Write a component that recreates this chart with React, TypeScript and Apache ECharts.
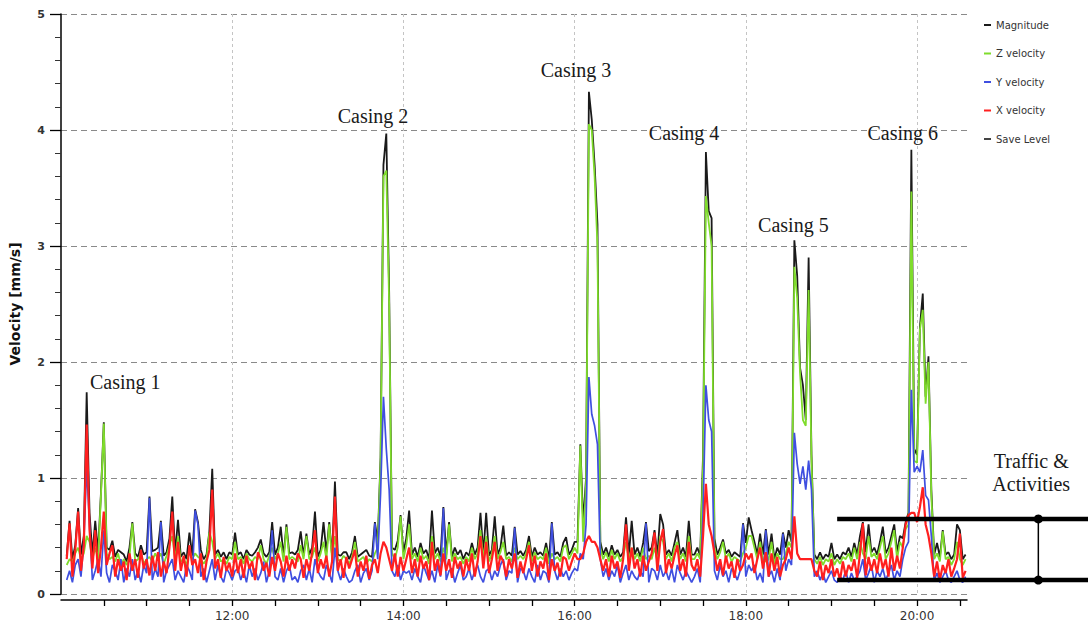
import React, { useEffect, useRef } from "react";
import * as echarts from "echarts";

// Sampling of the vibration record: first sample at 10:04, one sample every 2 minutes.
const START_MINUTE = 604;
const STEP_MINUTES = 2;

// Peak particle velocities [mm/s], 20 samples per row
const magnitude = [
  0.33, 0.63, 0.3, 0.42, 0.74, 0.34, 0.5, 1.74, 0.7, 0.34, 0.63, 0.36, 0.87, 1.48, 0.4, 0.38, 0.46, 0.32, 0.38, 0.36,
  0.34, 0.28, 0.4, 0.62, 0.35, 0.32, 0.42, 0.34, 0.36, 0.84, 0.37, 0.38, 0.4, 0.63, 0.33, 0.36, 0.48, 0.84, 0.35, 0.64,
  0.32, 0.36, 0.3, 0.53, 0.33, 0.73, 0.62, 0.38, 0.3, 0.34, 0.54, 1.08, 0.34, 0.38, 0.32, 0.36, 0.3, 0.36, 0.34, 0.53,
  0.34, 0.36, 0.3, 0.38, 0.34, 0.33, 0.36, 0.4, 0.47, 0.35, 0.32, 0.36, 0.62, 0.34, 0.4, 0.58, 0.32, 0.6, 0.35, 0.36,
  0.34, 0.38, 0.54, 0.33, 0.52, 0.34, 0.4, 0.71, 0.32, 0.38, 0.62, 0.36, 0.62, 0.33, 0.97, 0.34, 0.33, 0.36, 0.36, 0.3,
  0.36, 0.5, 0.32, 0.34, 0.36, 0.38, 0.33, 0.32, 0.62, 0.45, 1.18, 3.7, 3.97, 2.6, 0.4, 0.38, 0.46, 0.68, 0.36, 0.48,
  0.72, 0.34, 0.4, 0.32, 0.44, 0.35, 0.38, 0.3, 0.72, 0.35, 0.4, 0.32, 0.75, 0.34, 0.62, 0.32, 0.4, 0.34, 0.38, 0.3,
  0.36, 0.33, 0.44, 0.34, 0.4, 0.7, 0.35, 0.7, 0.33, 0.38, 0.67, 0.34, 0.4, 0.59, 0.33, 0.36, 0.33, 0.58, 0.34, 0.37,
  0.33, 0.38, 0.5, 0.32, 0.4, 0.34, 0.36, 0.33, 0.44, 0.3, 0.62, 0.34, 0.36, 0.32, 0.44, 0.49, 0.34, 0.38, 0.45, 0.45,
  1.29, 0.61, 1.0, 4.33, 4.09, 3.7, 3.19, 0.45, 0.34, 0.4, 0.32, 0.42, 0.34, 0.38, 0.32, 0.36, 0.66, 0.34, 0.63, 0.34,
  0.4, 0.32, 0.44, 0.62, 0.37, 0.4, 0.55, 0.33, 0.69, 0.6, 0.34, 0.38, 0.33, 0.44, 0.55, 0.34, 0.4, 0.32, 0.63, 0.34,
  0.34, 0.4, 0.33, 1.2, 3.81, 3.3, 3.24, 0.48, 0.34, 0.4, 0.47, 0.35, 0.38, 0.32, 0.36, 0.34, 0.32, 0.61, 0.44, 0.66,
  0.55, 0.45, 0.34, 0.52, 0.34, 0.56, 0.34, 0.52, 0.3, 0.4, 0.34, 0.53, 0.4, 0.55, 0.45, 3.05, 2.74, 1.95, 1.8, 1.5,
  2.9, 1.2, 0.34, 0.3, 0.36, 0.3, 0.34, 0.32, 0.44, 0.3, 0.34, 0.3, 0.36, 0.34, 0.4, 0.32, 0.44, 0.34, 0.5, 0.62,
  0.36, 0.6, 0.36, 0.4, 0.34, 0.45, 0.58, 0.35, 0.4, 0.5, 0.6, 0.36, 0.5, 0.48, 0.62, 0.7, 3.83, 1.25, 1.2, 2.3,
  2.59, 1.7, 2.05, 0.9, 0.34, 0.44, 0.32, 0.55, 0.34, 0.36, 0.3, 0.34, 0.6, 0.55, 0.3, 0.34,
];

const zVelocity = [
  0.25, 0.3, 0.28, 0.35, 0.4, 0.3, 0.35, 0.5, 0.45, 0.3, 0.4, 0.3, 0.85, 1.47, 0.35, 0.3, 0.32, 0.28, 0.35, 0.25,
  0.3, 0.25, 0.32, 0.61, 0.28, 0.3, 0.35, 0.26, 0.3, 0.32, 0.28, 0.35, 0.3, 0.35, 0.26, 0.33, 0.42, 0.5, 0.3, 0.5,
  0.28, 0.3, 0.25, 0.38, 0.3, 0.35, 0.32, 0.3, 0.26, 0.3, 0.53, 0.45, 0.3, 0.35, 0.28, 0.3, 0.26, 0.32, 0.3, 0.45,
  0.3, 0.32, 0.26, 0.35, 0.3, 0.28, 0.32, 0.3, 0.42, 0.3, 0.26, 0.33, 0.4, 0.3, 0.35, 0.45, 0.28, 0.58, 0.3, 0.32,
  0.3, 0.28, 0.42, 0.3, 0.5, 0.3, 0.32, 0.4, 0.28, 0.35, 0.45, 0.3, 0.6, 0.3, 0.5, 0.3, 0.28, 0.33, 0.3, 0.26,
  0.32, 0.45, 0.28, 0.3, 0.32, 0.26, 0.3, 0.28, 0.35, 0.4, 1.15, 3.6, 3.65, 2.5, 0.35, 0.3, 0.4, 0.67, 0.3, 0.42,
  0.6, 0.3, 0.35, 0.28, 0.4, 0.3, 0.33, 0.26, 0.5, 0.3, 0.35, 0.28, 0.4, 0.3, 0.6, 0.28, 0.35, 0.3, 0.32, 0.26,
  0.32, 0.28, 0.4, 0.3, 0.35, 0.55, 0.3, 0.5, 0.28, 0.35, 0.5, 0.3, 0.36, 0.45, 0.3, 0.32, 0.28, 0.4, 0.3, 0.33,
  0.3, 0.35, 0.45, 0.28, 0.36, 0.3, 0.32, 0.3, 0.4, 0.26, 0.35, 0.3, 0.32, 0.28, 0.4, 0.42, 0.3, 0.35, 0.4, 0.35,
  1.28, 0.45, 0.95, 4.05, 4.0, 3.6, 3.0, 0.4, 0.3, 0.36, 0.28, 0.38, 0.3, 0.35, 0.28, 0.32, 0.45, 0.3, 0.4, 0.3,
  0.35, 0.28, 0.4, 0.3, 0.33, 0.3, 0.4, 0.28, 0.5, 0.45, 0.3, 0.35, 0.28, 0.4, 0.45, 0.3, 0.35, 0.28, 0.5, 0.3,
  0.3, 0.35, 0.3, 1.1, 3.43, 3.2, 3.0, 0.4, 0.3, 0.36, 0.45, 0.3, 0.35, 0.28, 0.32, 0.3, 0.28, 0.35, 0.4, 0.5,
  0.5, 0.4, 0.3, 0.45, 0.3, 0.28, 0.3, 0.45, 0.26, 0.35, 0.3, 0.3, 0.35, 0.45, 0.4, 2.82, 2.55, 1.9, 1.5, 1.45,
  2.62, 1.16, 0.3, 0.26, 0.32, 0.25, 0.3, 0.28, 0.35, 0.25, 0.3, 0.26, 0.32, 0.3, 0.35, 0.28, 0.4, 0.3, 0.45, 0.35,
  0.3, 0.5, 0.32, 0.35, 0.3, 0.4, 0.5, 0.3, 0.35, 0.45, 0.55, 0.3, 0.45, 0.4, 0.56, 0.6, 3.47, 1.15, 1.13, 2.28,
  2.45, 1.64, 2.0, 0.85, 0.3, 0.35, 0.28, 0.54, 0.3, 0.32, 0.25, 0.3, 0.45, 0.3, 0.25, 0.3,
];

const yVelocity = [
  0.12, 0.2, 0.1, 0.25, 0.3, 0.15, 0.45, 1.1, 0.6, 0.12, 0.2, 0.3, 0.15, 0.55, 0.18, 0.1, 0.25, 0.2, 0.12, 0.3,
  0.1, 0.22, 0.15, 0.3, 0.12, 0.2, 0.1, 0.25, 0.18, 0.83, 0.12, 0.22, 0.15, 0.62, 0.1, 0.2, 0.25, 0.3, 0.12, 0.2,
  0.15, 0.1, 0.25, 0.2, 0.12, 0.72, 0.6, 0.15, 0.22, 0.1, 0.2, 0.3, 0.12, 0.25, 0.15, 0.1, 0.22, 0.18, 0.12, 0.2,
  0.22, 0.12, 0.2, 0.1, 0.25, 0.15, 0.22, 0.12, 0.18, 0.28, 0.1, 0.2, 0.55, 0.15, 0.12, 0.22, 0.1, 0.2, 0.25, 0.12,
  0.15, 0.1, 0.2, 0.25, 0.12, 0.22, 0.1, 0.3, 0.2, 0.15, 0.12, 0.25, 0.18, 0.1, 0.4, 0.2, 0.12, 0.22, 0.15, 0.1,
  0.12, 0.2, 0.25, 0.1, 0.18, 0.22, 0.12, 0.2, 0.61, 0.3, 0.87, 1.7, 1.25, 0.9, 0.2, 0.15, 0.25, 0.12, 0.2, 0.18,
  0.2, 0.12, 0.22, 0.15, 0.1, 0.25, 0.18, 0.12, 0.2, 0.1, 0.25, 0.15, 0.74, 0.12, 0.2, 0.22, 0.1, 0.18, 0.25, 0.12,
  0.15, 0.22, 0.12, 0.2, 0.25, 0.15, 0.1, 0.2, 0.22, 0.12, 0.2, 0.15, 0.25, 0.3, 0.12, 0.2, 0.18, 0.57, 0.1, 0.22,
  0.2, 0.12, 0.22, 0.15, 0.1, 0.25, 0.12, 0.2, 0.18, 0.1, 0.61, 0.2, 0.12, 0.22, 0.15, 0.2, 0.12, 0.18, 0.22, 0.2,
  0.35, 0.3, 0.6, 1.87, 1.55, 1.45, 1.29, 0.3, 0.15, 0.22, 0.12, 0.2, 0.15, 0.25, 0.1, 0.18, 0.25, 0.12, 0.2, 0.15,
  0.12, 0.2, 0.15, 0.61, 0.1, 0.22, 0.2, 0.12, 0.25, 0.15, 0.2, 0.12, 0.22, 0.1, 0.25, 0.18, 0.12, 0.2, 0.15, 0.1,
  0.15, 0.22, 0.1, 0.7, 1.8, 1.5, 1.4, 0.2, 0.12, 0.25, 0.15, 0.2, 0.1, 0.22, 0.18, 0.12, 0.2, 0.6, 0.15, 0.25,
  0.2, 0.25, 0.12, 0.18, 0.1, 0.55, 0.15, 0.2, 0.1, 0.22, 0.12, 0.52, 0.2, 0.3, 0.25, 1.39, 1.12, 0.95, 1.1, 0.9,
  1.15, 0.9, 0.15, 0.2, 0.12, 0.18, 0.1, 0.15, 0.2, 0.12, 0.1, 0.15, 0.12, 0.2, 0.1, 0.18, 0.12, 0.15, 0.2, 0.3,
  0.12, 0.18, 0.25, 0.1, 0.2, 0.15, 0.22, 0.12, 0.18, 0.25, 0.12, 0.2, 0.15, 0.3, 0.4, 0.45, 1.76, 1.05, 1.1, 1.05,
  1.24, 0.85, 0.81, 0.5, 0.12, 0.18, 0.1, 0.15, 0.2, 0.12, 0.1, 0.15, 0.2, 0.12, 0.1, 0.15,
];

const xVelocity = [
  0.3, 0.61, 0.15, 0.38, 0.71, 0.2, 0.42, 1.46, 0.55, 0.22, 0.55, 0.18, 0.4, 0.71, 0.25, 0.35, 0.42, 0.15, 0.3, 0.2,
  0.28, 0.12, 0.35, 0.2, 0.3, 0.14, 0.38, 0.22, 0.3, 0.16, 0.33, 0.2, 0.36, 0.15, 0.28, 0.18, 0.4, 0.71, 0.2, 0.45,
  0.2, 0.33, 0.15, 0.42, 0.25, 0.3, 0.18, 0.35, 0.12, 0.28, 0.38, 0.9, 0.22, 0.3, 0.14, 0.32, 0.2, 0.27, 0.15, 0.35,
  0.18, 0.3, 0.14, 0.33, 0.22, 0.28, 0.12, 0.36, 0.3, 0.2, 0.27, 0.15, 0.32, 0.2, 0.35, 0.28, 0.15, 0.33, 0.2, 0.3,
  0.22, 0.35, 0.3, 0.14, 0.3, 0.2, 0.36, 0.55, 0.18, 0.3, 0.22, 0.33, 0.15, 0.28, 0.84, 0.2, 0.3, 0.14, 0.32, 0.22,
  0.3, 0.38, 0.15, 0.28, 0.2, 0.33, 0.13, 0.25, 0.3, 0.18, 0.35, 0.45, 0.4, 0.3, 0.2, 0.35, 0.15, 0.32, 0.2, 0.3,
  0.4, 0.18, 0.3, 0.15, 0.33, 0.22, 0.28, 0.12, 0.45, 0.2, 0.3, 0.16, 0.35, 0.2, 0.3, 0.14, 0.32, 0.22, 0.28, 0.15,
  0.3, 0.2, 0.35, 0.15, 0.28, 0.5, 0.22, 0.45, 0.18, 0.3, 0.45, 0.2, 0.33, 0.28, 0.15, 0.3, 0.22, 0.35, 0.14, 0.28,
  0.18, 0.3, 0.42, 0.2, 0.33, 0.15, 0.28, 0.22, 0.35, 0.12, 0.3, 0.2, 0.27, 0.15, 0.32, 0.3, 0.2, 0.28, 0.35, 0.3,
  0.3, 0.35, 0.45, 0.5, 0.45, 0.45, 0.4, 0.3, 0.2, 0.3, 0.15, 0.33, 0.22, 0.28, 0.14, 0.3, 0.6, 0.2, 0.4, 0.22,
  0.3, 0.15, 0.33, 0.2, 0.28, 0.35, 0.53, 0.2, 0.45, 0.56, 0.18, 0.3, 0.22, 0.33, 0.42, 0.2, 0.3, 0.15, 0.45, 0.25,
  0.2, 0.3, 0.15, 0.5, 0.95, 0.6, 0.5, 0.35, 0.2, 0.3, 0.16, 0.33, 0.22, 0.28, 0.14, 0.3, 0.2, 0.25, 0.35, 0.3,
  0.35, 0.18, 0.3, 0.4, 0.22, 0.36, 0.15, 0.35, 0.2, 0.32, 0.15, 0.25, 0.3, 0.4, 0.3, 0.67, 0.35, 0.3, 0.3, 0.3,
  0.3, 0.3, 0.2, 0.15, 0.28, 0.12, 0.25, 0.18, 0.3, 0.15, 0.22, 0.12, 0.28, 0.15, 0.25, 0.2, 0.3, 0.14, 0.35, 0.61,
  0.16, 0.32, 0.2, 0.3, 0.18, 0.35, 0.22, 0.3, 0.15, 0.4, 0.2, 0.33, 0.22, 0.4, 0.6, 0.68, 0.7, 0.7, 0.62, 0.75,
  0.92, 0.6, 0.5, 0.35, 0.15, 0.28, 0.12, 0.25, 0.18, 0.3, 0.15, 0.22, 0.3, 0.52, 0.14, 0.2,
];

// Time axis (minutes after midnight)
const AXIS_START = 600; // 10:00
const AXIS_END = 1235; // 20:35
const tickMinutes = [
  630, 660, 690, 720, 750, 780, 810, 840, 870, 900, 930,
  960, 990, 1020, 1050, 1080, 1110, 1140, 1170, 1200, 1230,
];
const labelMinutes = [720, 840, 960, 1080, 1200];

const legendNames = ["Magnitude", "Z velocity", "Y velocity", "X velocity", "Save Level"];

// Event annotations, placed in (minute, mm/s)
const casingNotes = [
  { text: "Casing 1", minute: 645, level: 1.83 },
  { text: "Casing 2", minute: 818.7, level: 4.12 },
  { text: "Casing 3", minute: 961, level: 4.52 },
  { text: "Casing 4", minute: 1036.7, level: 3.97 },
  { text: "Casing 5", minute: 1113.3, level: 3.18 },
  { text: "Casing 6", minute: 1190, level: 3.97 },
];
const trafficBand = { fromMinute: 1144, upper: 0.647, lower: 0.12, markerMinute: 1285, labelMinute: 1280, labelLevel: 1.047 };

const pairs = (vals: number[]) => vals.map((v, i) => [START_MINUTE + i * STEP_MINUTES, v]);

const fmtTime = (m: number) => `${Math.floor(m / 60)}:${String(m % 60).padStart(2, "0")}`;

export default function App() {
  const ref = useRef<HTMLDivElement>(null);

  useEffect(() => {
    document.body.style.margin = "0";
    if (!ref.current) return;
    const chart = echarts.init(ref.current, undefined, { renderer: "svg" });

    const line = (name: string, data: number[], color: string, width: number) => ({
      name,
      type: "line",
      data: pairs(data),
      symbol: "none",
      color,
      lineStyle: { color, width },
      emphasis: { disabled: true },
    });

    chart.setOption({
      animation: false,
      backgroundColor: "#ffffff",
      grid: { left: 56, right: 121, top: 14, bottom: 37, containLabel: false },
      legend: {
        data: legendNames,
        orient: "vertical",
        left: 979,
        top: 14,
        icon: "rect",
        itemWidth: 7,
        itemHeight: 2,
        itemGap: 16.5,
        selectedMode: false,
        textStyle: { fontFamily: "DejaVu Sans", fontSize: 10, color: "#333", lineHeight: 12 },
      },
      xAxis: [
        {
          type: "value",
          min: AXIS_START,
          max: AXIS_END,
          interval: 30,
          offset: 6,
          axisLine: { show: true, onZero: false, lineStyle: { color: "#000", width: 1.5 } },
          axisTick: { show: true, length: 6, customValues: tickMinutes, lineStyle: { color: "#000", width: 1.3 } },
          axisLabel: {
            customValues: labelMinutes,
            margin: 10,
            fontFamily: "DejaVu Sans",
            fontSize: 12,
            color: "#333",
            formatter: (v: number) => (labelMinutes.includes(v) ? fmtTime(v) : ""),
          },
          splitLine: { show: false },
        },
        {
          type: "value",
          min: AXIS_START,
          max: AXIS_END,
          interval: 120,
          axisLine: { show: false },
          axisTick: { show: false },
          axisLabel: { show: false },
          splitLine: {
            show: true,
            showMinLine: false,
            showMaxLine: false,
            lineStyle: { color: "#c4c4c4", type: [3, 3], width: 1 },
          },
        },
      ],
      yAxis: {
        type: "value",
        min: 0,
        max: 5,
        interval: 1,
        name: "Velocity [mm/s]",
        nameLocation: "middle",
        nameGap: 39,
        nameRotate: 90,
        nameTextStyle: { fontFamily: "DejaVu Sans", fontSize: 14, fontWeight: "bold", color: "#111" },
        axisLine: { show: true, lineStyle: { color: "#000", width: 1.5 } },
        axisTick: { show: true, length: 11, lineStyle: { color: "#000", width: 1.3 } },
        minorTick: { show: true, splitNumber: 5, length: 6, lineStyle: { color: "#333", width: 1 } },
        axisLabel: { margin: 16, fontFamily: "DejaVu Sans", fontSize: 11, fontWeight: "bold", color: "#333" },
        splitLine: { show: true, lineStyle: { color: "#8a8a8a", type: [6, 4], width: 1 } },
      },
      series: [
        line("Magnitude", magnitude, "#1a1a1a", 1.8),
        line("Z velocity", zVelocity, "#7fdc2c", 1.8),
        line("Y velocity", yVelocity, "#3f4fe0", 1.7),
        line("X velocity", xVelocity, "#ff1f1f", 2.2),
        { name: "Save Level", type: "line", data: [], symbol: "none", color: "#444", lineStyle: { type: "dashed" } },
      ],
    });

    const px = (m: number, v: number) => chart.convertToPixel({ xAxisIndex: 0, yAxisIndex: 0 }, [m, v]) as number[];
    const width = chart.getWidth();

    const notes = casingNotes.map((n) => {
      const [x, y] = px(n.minute, n.level);
      return {
        type: "text",
        x,
        y,
        z: 100,
        style: {
          text: n.text,
          fontFamily: "Liberation Serif",
          fontSize: 20,
          fill: "#1a1a1a",
          align: "center",
          verticalAlign: "middle",
        },
      };
    });

    const [bx, upperY] = px(trafficBand.fromMinute, trafficBand.upper);
    const [, lowerY] = px(trafficBand.fromMinute, trafficBand.lower);
    const [mx] = px(trafficBand.markerMinute, trafficBand.upper);
    const [lx, ly] = px(trafficBand.labelMinute, trafficBand.labelLevel);

    chart.setOption({
      graphic: [
        ...notes,
        {
          type: "text",
          x: lx,
          y: ly,
          z: 100,
          style: {
            text: "Traffic &\nActivities",
            fontFamily: "Liberation Serif",
            fontSize: 20,
            lineHeight: 23,
            fill: "#1a1a1a",
            align: "center",
            verticalAlign: "middle",
          },
        },
        { type: "line", z: 100, shape: { x1: bx, y1: upperY, x2: width, y2: upperY }, style: { stroke: "#000", lineWidth: 4.5 } },
        { type: "line", z: 100, shape: { x1: bx, y1: lowerY, x2: width, y2: lowerY }, style: { stroke: "#000", lineWidth: 4.5 } },
        { type: "line", z: 100, shape: { x1: mx, y1: upperY, x2: mx, y2: lowerY }, style: { stroke: "#000", lineWidth: 1.5 } },
        { type: "circle", z: 101, shape: { cx: mx, cy: upperY, r: 4.5 }, style: { fill: "#000" } },
        { type: "circle", z: 101, shape: { cx: mx, cy: lowerY, r: 4.5 }, style: { fill: "#000" } },
      ],
    });

    return () => chart.dispose();
  }, []);

  return <div ref={ref} style={{ width: 1088, height: 631, background: "#fff" }} />;
}
